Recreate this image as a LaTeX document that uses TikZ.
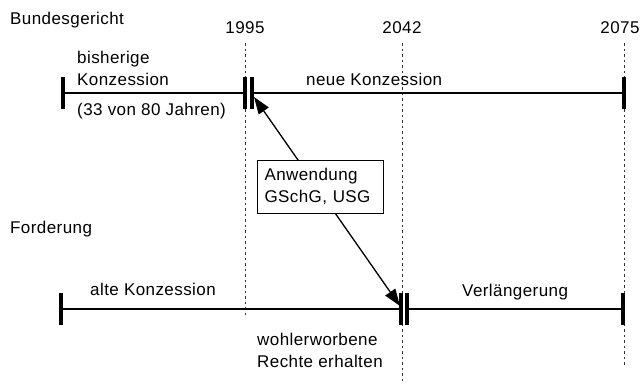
\documentclass[tikz,border=0pt]{standalone}
\usepackage{fontspec}
\setmainfont[LetterSpace=2.5]{Liberation Sans}
\usetikzlibrary{arrows.meta}
\begin{document}
\begin{tikzpicture}[x=1pt,y=-1pt,
  lbl/.style={inner sep=0pt,anchor=base west,font=\fontsize{17}{22}\selectfont},
  yearlbl/.style={inner sep=0pt,anchor=base,font=\fontsize{17}{22}\selectfont},
  timeline/.style={line width=2.4pt},
  tickmark/.style={line width=3.2pt},
  guide/.style={line width=0.8pt,dash pattern=on 2.5pt off 3pt,black!80},
  link/.style={line width=1.3pt,{Triangle[length=17pt,width=12pt]}-{Triangle[length=17pt,width=12pt]}},
  infobox/.style={draw,line width=0.8pt,fill=white,inner xsep=7pt,inner ysep=5pt,
    text width=112pt,align=left,minimum height=53pt,font=\fontsize{17}{22}\selectfont}]
\useasboundingbox (0,0) rectangle (642,383);

% guide lines
\coordinate (g1t) at (245,43); \coordinate (g1b) at (245,315);
\coordinate (g2t) at (402,43); \coordinate (g2b) at (402,383);
\coordinate (g3t) at (624,43); \coordinate (g3b) at (624,365);
\draw[guide] (g1t) -- (g1b);
\draw[guide] (g2t) -- (g2b);
\draw[guide] (g3t) -- (g3b);

% years
\node[yearlbl] (y1995) at (245,33) {1995};
\node[yearlbl] (y2042) at (402,33) {2042};
\node[yearlbl] (y2075) at (620,33) {2075};

% row labels
\node[lbl] (bg) at (10,24) {Bundesgericht};
\node[lbl] (fo) at (10,233) {Forderung};

% top timeline
\coordinate (tA) at (63,93);  \coordinate (tB) at (245,93);
\coordinate (tC) at (252,93); \coordinate (tD) at (624,93);
\draw[timeline] (tA) -- (tB);
\draw[timeline] (tC) -- (tD);
\foreach \p in {tA,tB,tC,tD}{\draw[tickmark] ([yshift=-16pt]\p) -- ([yshift=16pt]\p);}

% bottom timeline
\coordinate (bA) at (61,309);  \coordinate (bB) at (401,309);
\coordinate (bC) at (407,309); \coordinate (bD) at (623,309);
\draw[timeline] (bA) -- (bB);
\draw[timeline] (bC) -- (bD);
\foreach \p in {bA,bB,bC,bD}{\draw[tickmark] ([yshift=-16pt]\p) -- ([yshift=16pt]\p);}

% top texts
\node[lbl] (t1) at (77,63) {bisherige};
\node[lbl] (t2) at (77,85) {Konzession};
\node[lbl] (t3) at (77,115) {(33 von 80 Jahren)};
\node[lbl] (t4) at (306,85) {neue Konzession};

% bottom texts
\node[lbl] (b1) at (90,295) {alte Konzession};
\node[lbl] (b2) at (462,296) {Verlängerung};
\node[lbl] (b3) at (257,345) {wohlerworbene};
\node[lbl] (b4) at (257,367) {Rechte erhalten};

% arrow with box
\coordinate (aS) at (254,97);
\coordinate (aE) at (400,306);
\draw[link] (aS) -- (aE);
\node[infobox] (box) at (320.5,186.5) {Anwendung\\GSchG, USG};
\end{tikzpicture}
\end{document}
